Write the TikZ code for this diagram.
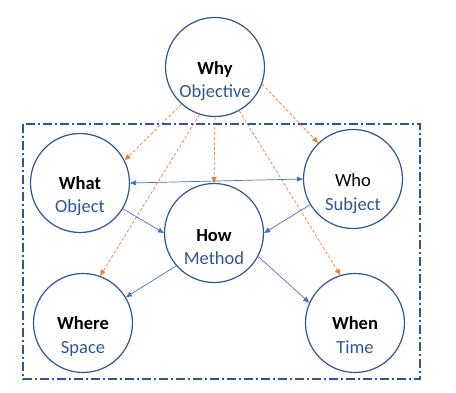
\documentclass[tikz,border=0pt]{standalone}
\usepackage{fontspec}
\setmainfont{Carlito}
\usetikzlibrary{arrows.meta}
\definecolor{cdark}{HTML}{2F5597}
\definecolor{clight}{HTML}{4472C4}
\definecolor{corange}{HTML}{ED7D31}
\tikzset{
  ball/.style={circle, draw=cdark, line width=1.2pt, minimum size=99pt, inner sep=0pt, fill=white},
  toptext/.style={anchor=base, font=\fontsize{18.5}{22}\selectfont\bfseries, text=black, inner sep=0pt},
  toptextreg/.style={anchor=base, font=\fontsize{18.5}{22}\selectfont, text=black, inner sep=0pt},
  subtext/.style={anchor=base, font=\fontsize{18.5}{22}\selectfont, text=cdark, inner sep=0pt},
  bluearrow/.style={draw=clight, line width=0.7pt, -{Triangle[length=6pt,width=5pt]}},
  orangearrow/.style={draw=corange, line width=0.7pt, dash pattern=on 3pt off 2pt, -{Triangle[length=6pt,width=5pt]}},
  framebox/.style={draw=cdark, line width=1.1pt, dash pattern=on 9pt off 3pt on 2pt off 3pt}
}
\begin{document}
\begin{tikzpicture}[x=1pt,y=-1pt]
\useasboundingbox (0,0) rectangle (456,392);
\draw[framebox] (23,124) rectangle (420,379);

\node[ball] (why) at (215,67) {};
\node[ball] (what) at (80,183) {};
\node[ball] (who) at (353,179) {};
\node[ball] (how) at (214,233) {};
\node[ball] (where) at (83,323) {};
\node[ball] (when) at (355,323) {};

\node[toptext] (whyT) at ([yshift=-7pt]why.center) {Why};
\node[subtext] (whyS) at ([yshift=-30pt]why.center) {Objective};
\node[toptext] (whatT) at ([yshift=-6pt]what.center) {What};
\node[subtext] (whatS) at ([yshift=-29pt]what.center) {Object};
\node[toptextreg] (whoT) at ([yshift=-7pt]who.center) {Who};
\node[subtext] (whoS) at ([yshift=-31pt]who.center) {Subject};
\node[toptext] (howT) at ([yshift=-8pt]how.center) {How};
\node[subtext] (howS) at ([yshift=-31pt]how.center) {Method};
\node[toptext] (whereT) at ([yshift=-6pt]where.center) {Where};
\node[subtext] (whereS) at ([yshift=-30pt]where.center) {Space};
\node[toptext] (whenT) at ([yshift=-6pt]when.center) {When};
\node[subtext] (whenS) at ([yshift=-30pt]when.center) {Time};

% orange dashed arrows from Why
\draw[orangearrow] (why.-132) -- (what.27.5);
\draw[orangearrow] (why.south) -- (how.north);
\draw[orangearrow] (why.-20) -- (who.134);
\draw[orangearrow] (why.-108) -- (where.70);
\draw[orangearrow] (why.-61.5) -- (when.107);

% blue arrows
\draw[bluearrow, {Triangle[length=6pt,width=5pt]}-{Triangle[length=6pt,width=5pt]}] (what.east) -- (who.west);
\draw[bluearrow] (what.-31) -- (how.west);
\draw[bluearrow] (who.-149) -- (how.east);
\draw[bluearrow] (how.-139) -- (where.31);
\draw[bluearrow] (how.-28) -- (when.156);
\end{tikzpicture}
\end{document}
